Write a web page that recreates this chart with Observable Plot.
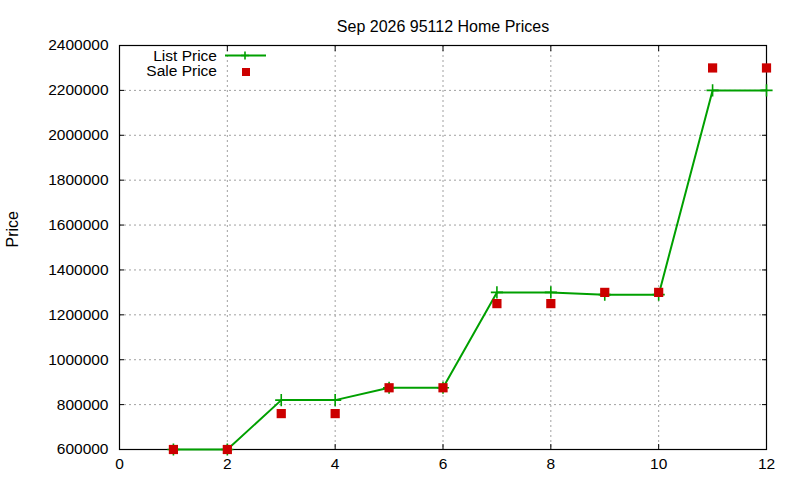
<!DOCTYPE html>
<html>
<head>
<meta charset="utf-8">
<script src="https://cdn.jsdelivr.net/npm/d3@7"></script>
<script src="https://cdn.jsdelivr.net/npm/@observablehq/plot@0.6"></script>
<style>
  html, body { margin: 0; padding: 0; background: #fff; }
  #wrap { position: relative; width: 800px; height: 480px; font-family: "Liberation Sans", Arial, sans-serif; }
</style>
</head>
<body>
<div id="wrap"></div>
<script>
const months = [1, 2, 3, 4, 5, 6, 7, 8, 9, 10, 11, 12];
const listPrice = [600000, 600000, 820000, 820000, 875000, 875000, 1300000, 1300000, 1290000, 1290000, 2200000, 2200000];
const salePrice = [600000, 600000, 760000, 760000, 875000, 875000, 1250000, 1250000, 1300000, 1300000, 2300000, 2300000];
const xTicks = [0, 2, 4, 6, 8, 10, 12];
const yTicks = [600000, 800000, 1000000, 1200000, 1400000, 1600000, 1800000, 2000000, 2200000, 2400000];
const title = "Sep 2026 95112 Home Prices";
const yLabel = "Price";
const seriesNames = ["List Price", "Sale Price"];

const listData = months.map((m, i) => ({month: m, price: listPrice[i]}));
const saleData = months.map((m, i) => ({month: m, price: salePrice[i]}));

const green = "#00a000";
const red = "#cc0000";
const gridStyle = {stroke: "#a0a0a0", strokeOpacity: 1, strokeDasharray: "2,3", strokeWidth: 1};

const chart = Plot.plot({
  width: 800,
  height: 480,
  marginLeft: 119,
  marginRight: 34,
  marginTop: 45,
  marginBottom: 31,
  style: {fontFamily: "'Liberation Sans', Arial, sans-serif", fontSize: "15px", color: "#000", background: "#fff", overflow: "visible"},
  x: {domain: [0, 12], ticks: xTicks, label: null},
  y: {domain: [600000, 2400000], ticks: yTicks, label: null},
  marks: [
    Plot.ruleX(xTicks.slice(1, -1), {x: d => d, ...gridStyle}),
    Plot.ruleY(yTicks.slice(1, -1), {y: d => d, ...gridStyle}),
    Plot.axisX({ticks: xTicks, tickSize: -5, tickPadding: 13, tickFormat: d => String(d), fontSize: 15.5, stroke: "#000", label: null}),
    Plot.axisX({ticks: xTicks, anchor: "top", tickSize: -5, tickFormat: () => "", stroke: "#000", label: null}),
    Plot.axisY({ticks: yTicks, tickSize: -5, tickPadding: 16, tickFormat: d => String(d), fontSize: 15.5, stroke: "#000", label: null}),
    Plot.axisY({ticks: yTicks, anchor: "right", tickSize: -5, tickFormat: () => "", stroke: "#000", label: null}),
    Plot.frame({stroke: "#000", strokeWidth: 1.2}),
    Plot.line(listData, {x: "month", y: "price", stroke: green, strokeWidth: 2}),
    Plot.dot(listData, {x: "month", y: "price", symbol: "plus", r: 4, stroke: green, strokeWidth: 1.6}),
    Plot.dot(saleData, {x: "month", y: "price", symbol: "square", r: 5.2, fill: red, stroke: "none"}),
    Plot.text([title], {frameAnchor: "top", dy: -25, text: d => d, fontSize: 16, fill: "#000"}),
    Plot.text([yLabel], {frameAnchor: "left", dx: -107, dy: 0, rotate: -90, text: d => d, fontSize: 16, fill: "#000"})
  ]
});

const wrap = document.getElementById("wrap");
wrap.appendChild(chart);

// Legend (key) in the upper-left, gnuplot style
const ns = "http://www.w3.org/2000/svg";
const leg = document.createElementNS(ns, "svg");
leg.setAttribute("width", 800);
leg.setAttribute("height", 480);
leg.style.position = "absolute";
leg.style.left = "0px";
leg.style.top = "0px";
leg.style.pointerEvents = "none";
const rows = [
  {name: seriesNames[0], y: 55.5, kind: "line"},
  {name: seriesNames[1], y: 71, kind: "square"}
];
rows.forEach(r => {
  const t = document.createElementNS(ns, "text");
  t.setAttribute("x", 217);
  t.setAttribute("y", r.y);
  t.setAttribute("dy", "0.35em");
  t.setAttribute("text-anchor", "end");
  t.setAttribute("font-family", "'Liberation Sans', Arial, sans-serif");
  t.setAttribute("font-size", "15.5");
  t.textContent = r.name;
  leg.appendChild(t);
  if (r.kind === "line") {
    const l = document.createElementNS(ns, "line");
    l.setAttribute("x1", 225); l.setAttribute("x2", 266);
    l.setAttribute("y1", r.y); l.setAttribute("y2", r.y);
    l.setAttribute("stroke", green); l.setAttribute("stroke-width", 2);
    leg.appendChild(l);
    const p = document.createElementNS(ns, "path");
    p.setAttribute("d", `M241,${r.y}h8M245,${r.y - 4}v8`);
    p.setAttribute("stroke", green); p.setAttribute("stroke-width", 1.6);
    leg.appendChild(p);
  } else {
    const s = document.createElementNS(ns, "rect");
    s.setAttribute("x", 242); s.setAttribute("y", r.y - 3);
    s.setAttribute("width", 8); s.setAttribute("height", 8);
    s.setAttribute("fill", red);
    leg.appendChild(s);
  }
});
wrap.appendChild(leg);
</script>
</body>
</html>
